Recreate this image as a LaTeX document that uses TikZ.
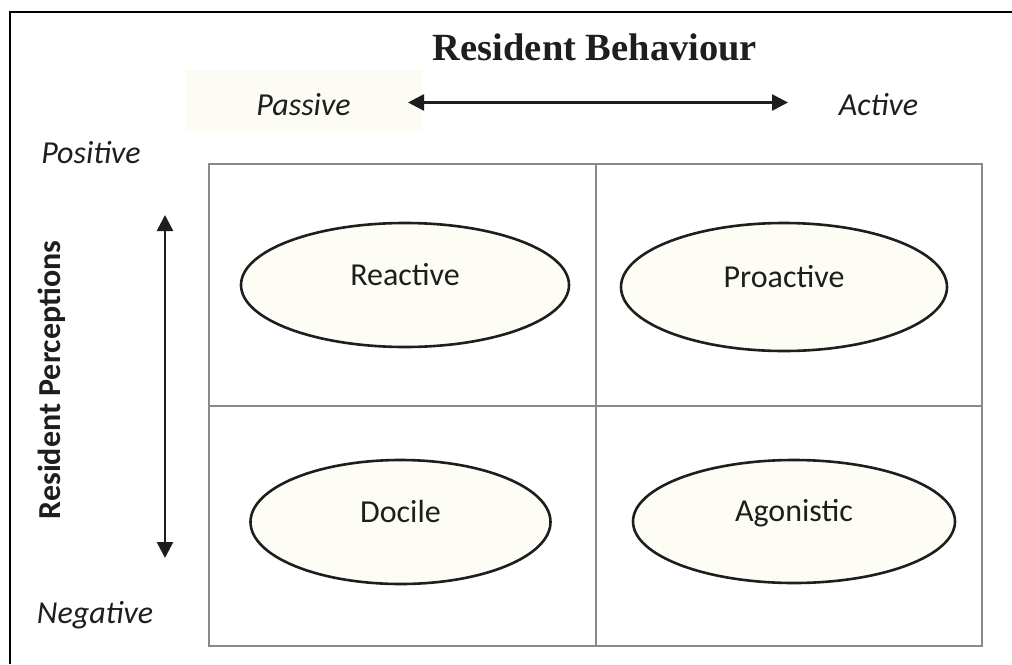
\documentclass[tikz,border=0pt]{standalone}
\usepackage{fontspec}
\setmainfont{Carlito}
\newfontfamily\titlefont{Liberation Serif}
\usetikzlibrary{shapes.geometric,arrows.meta}
\definecolor{cellfill}{HTML}{FDFDF5}
\definecolor{patchfill}{HTML}{FCFCF5}
\definecolor{gridgray}{HTML}{8A8A8A}
\definecolor{inkdark}{HTML}{1E1E1E}
\begin{document}
\begin{tikzpicture}[x=1pt,y=-1pt,
  quad/.style={ellipse, draw=inkdark, line width=2.6pt, fill=cellfill, inner sep=0pt,
    font=\fontsize{32}{38}\selectfont, text=inkdark, text height=21pt, text depth=21pt},
  axislabel/.style={font=\fontsize{32}{38}\selectfont\itshape, text=inkdark, anchor=base, inner sep=0pt},
  axisarrow/.style={line width=2.6pt, draw=inkdark,
    {Triangle[length=16pt,width=16pt]}-{Triangle[length=16pt,width=16pt]}},
  gridline/.style={draw=gridgray, line width=2pt}
]
\useasboundingbox (0,0) rectangle (1012,664);
\fill[white] (0,0) rectangle (1012,664);

% outer frame (top and left edges)
\draw[line width=2.6pt, black] (1012,12) -- (10,12) -- (10,664);

% title
\node[anchor=base, inner sep=0pt, text=inkdark,
  font=\titlefont\bfseries\fontsize{38.5}{44}\selectfont] (title) at (595,60) {Resident Behaviour};

% behaviour axis
\fill[patchfill] (185,70) rectangle (423,132);
\node[axislabel] (passive) at (303.5,115) {Passive};
\node[axislabel] (active) at (878.5,115) {Active};
\coordinate (hl) at (408,102.5);
\coordinate (hr) at (788,102.5);
\draw[axisarrow] (hl) -- (hr);

% perception axis
\node[axislabel] (positive) at (91,163) {Positive};
\node[axislabel] (negative) at (95,623) {Negative};
\coordinate (vt) at (165,215);
\coordinate (vb) at (165,558);
\draw[axisarrow] (vt) -- (vb);
\node[anchor=base, rotate=90, inner sep=0pt, text=inkdark,
  font=\fontsize{32}{38}\selectfont\bfseries] (perceptions) at (60,380) {Resident Perceptions};

% quadrant grid
\draw[gridline] (209,164) rectangle (981.5,645.5);
\draw[gridline] (595.5,164) -- (595.5,645.5);
\draw[gridline] (209,405.5) -- (981.5,405.5);

% quadrants
\node[quad, minimum width=328pt, minimum height=124pt] (reactive) at (405,285) {Reactive};
\node[quad, minimum width=326pt, minimum height=128pt] (proactive) at (784,287) {Proactive};
\node[quad, minimum width=300pt, minimum height=124pt] (docile) at (400.5,522) {Docile};
\node[quad, minimum width=322pt, minimum height=123pt] (agonistic) at (794,521.5) {Agonistic};
\end{tikzpicture}
\end{document}
